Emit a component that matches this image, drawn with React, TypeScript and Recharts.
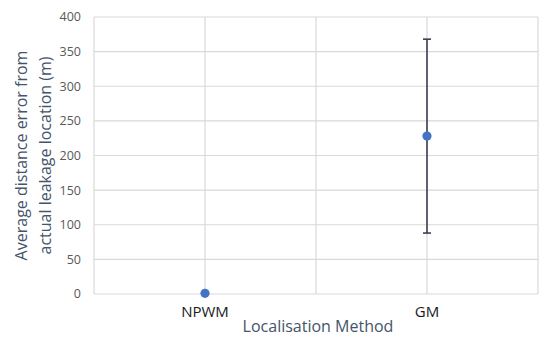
import React from 'react';
import { ScatterChart, Scatter, XAxis, YAxis, CartesianGrid, ErrorBar } from 'recharts';

const categories = ['NPWM', 'GM'];
const positions = [1, 2];
const meanError = [1, 228];
const errorRange = [0, 140];
const yTicks = [0, 50, 100, 150, 200, 250, 300, 350, 400];
const xTicks = [0.5, 1, 1.5, 2, 2.5];

const data = categories.map((c, i) => ({ name: c, x: positions[i], y: meanError[i], err: errorRange[i] }));

const FONT = '"Open Sans", sans-serif';
const LABEL_COLOR = '#44546A';

const YLabel = (props: any) => {
  const vb = props.viewBox || {};
  const cy = vb.y + vb.height / 2;
  const cx = 33;
  return (
    <text
      transform={`rotate(-90, ${cx}, ${cy})`}
      x={cx}
      y={cy}
      textAnchor="middle"
      fill={LABEL_COLOR}
      fontFamily={FONT}
      fontSize={16}
    >
      <tspan x={cx} dy="-0.35em">Average distance error from</tspan>
      <tspan x={cx} dy="1.45em">actual leakage location (m)</tspan>
    </text>
  );
};

const XLabel = (props: any) => {
  const vb = props.viewBox || {};
  return (
    <text
      x={vb.x + vb.width / 2 + 2}
      y={332}
      textAnchor="middle"
      fill={LABEL_COLOR}
      fontFamily={FONT}
      fontSize={16}
    >
      Localisation Method
    </text>
  );
};

const Dot = (props: any) => <circle cx={props.cx} cy={props.cy} r={4.6} fill="#4472C4" />;

export default function App() {
  return (
    <div style={{ position: 'absolute', left: 0, top: 0, width: 550, height: 343, background: '#fff' }}>
      <ScatterChart width={550} height={343} margin={{ top: 17, right: 12, bottom: 0, left: 0 }}>
        <CartesianGrid stroke="#D9D9D9" strokeWidth={1.2} horizontalValues={yTicks} verticalValues={xTicks} />
        <XAxis
          type="number"
          dataKey="x"
          domain={[0.5, 2.5]}
          ticks={xTicks}
          interval={0}
          height={49}
          axisLine={false}
          tickLine={false}
          tickSize={0}
          tickMargin={12}
          tick={{ fill: '#1a1a1a', fontSize: 15, fontFamily: FONT }}
          tickFormatter={(v: number) => {
            const i = positions.indexOf(v);
            return i >= 0 ? categories[i] : '';
          }}
          label={<XLabel />}
        />
        <YAxis
          type="number"
          dataKey="y"
          domain={[0, 400]}
          ticks={yTicks}
          interval={0}
          width={94}
          axisLine={false}
          tickLine={false}
          tickSize={0}
          tickMargin={13}
          tick={{ fill: '#595959', fontSize: 12.5, fontFamily: FONT }}
          label={<YLabel />}
        />
        <Scatter data={data} shape={<Dot />} isAnimationActive={false}>
          <ErrorBar dataKey="err" direction="y" width={4} stroke="#3B3F51" strokeWidth={1.6} />
        </Scatter>
      </ScatterChart>
    </div>
  );
}
